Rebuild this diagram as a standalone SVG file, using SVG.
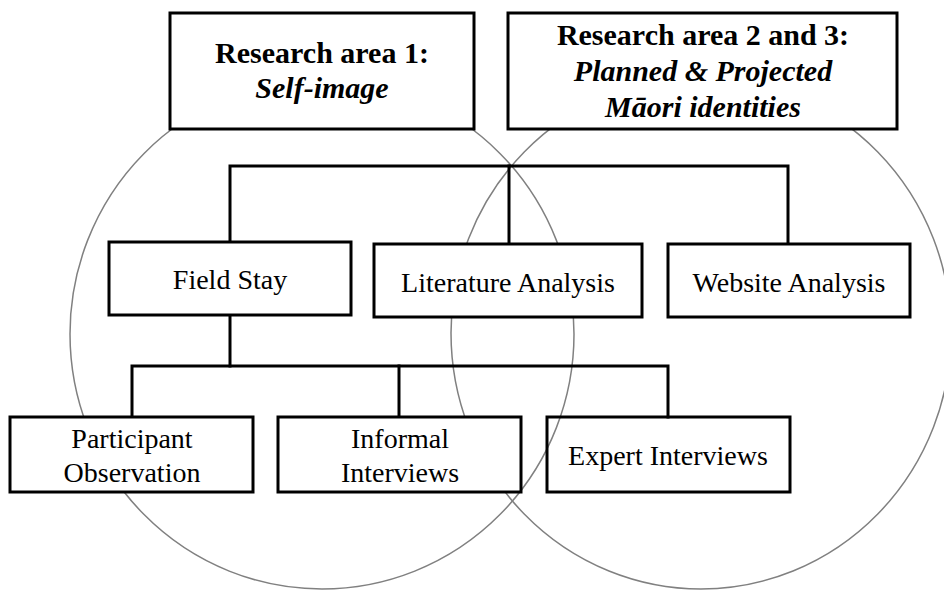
<svg xmlns="http://www.w3.org/2000/svg" width="944" height="590" viewBox="0 0 944 590">
  <style>
    .ring { fill: none; stroke: #808080; stroke-width: 1.5; }
    .box { fill: #ffffff; stroke: #000000; stroke-width: 3; }
    .open { fill: none; }
    .link { fill: none; stroke: #000000; stroke-width: 3; stroke-linecap: square; }
    .head { font-family: "Liberation Serif", "Times New Roman", serif; font-size: 30px; font-weight: bold; text-anchor: middle; fill: #000; }
    .it { font-style: italic; }
    .lbl { font-family: "Liberation Serif", "Times New Roman", serif; font-size: 28px; text-anchor: middle; fill: #000; }
  </style>
  <rect width="944" height="590" fill="#ffffff"/>

  <!-- research area circles -->
  <g id="areas">
    <ellipse class="ring" cx="322" cy="334" rx="252" ry="255"/>
    <ellipse class="ring" cx="701" cy="333" rx="250" ry="256"/>
  </g>

  <!-- connectors -->
  <g id="connectors">
    <polyline class="link" points="230,241 230,166 788,166 788,242"/>
    <line class="link" x1="509" y1="166" x2="509" y2="243"/>
    <line class="link" x1="230" y1="315" x2="230" y2="366"/>
    <polyline class="link" points="132,416 132,366 668,366 668,417"/>
    <line class="link" x1="399" y1="366" x2="399" y2="416"/>
  </g>

  <g id="area1">
    <rect class="box" x="170" y="13" width="304" height="116"/>
    <text class="head" x="322" y="63">Research area 1:</text>
    <text class="head it" x="322" y="98">Self-image</text>
  </g>

  <g id="area23">
    <rect class="box" x="508" y="13" width="389" height="116"/>
    <text class="head" x="703" y="45">Research area 2 and 3:</text>
    <text class="head it" x="703" y="81">Planned &amp; Projected</text>
    <text class="head it" x="703" y="117">Māori identities</text>
  </g>

  <g id="field-stay">
    <rect class="box" x="109" y="242" width="242" height="73"/>
    <text class="lbl" x="230" y="289">Field Stay</text>
  </g>

  <g id="literature-analysis">
    <rect class="box" x="374" y="244" width="268" height="73"/>
    <text class="lbl" x="508" y="292">Literature Analysis</text>
  </g>

  <g id="website-analysis">
    <rect class="box" x="668" y="244" width="242" height="73"/>
    <text class="lbl" x="789" y="292">Website Analysis</text>
  </g>

  <g id="participant-observation">
    <rect class="box" x="10" y="417" width="243" height="75"/>
    <text class="lbl" x="132" y="448">Participant</text>
    <text class="lbl" x="132" y="482">Observation</text>
  </g>

  <g id="informal-interviews">
    <rect class="box" x="278" y="417" width="243" height="75"/>
    <text class="lbl" x="400" y="448">Informal</text>
    <text class="lbl" x="400" y="482">Interviews</text>
  </g>

  <g id="expert-interviews">
    <rect class="box open" x="547" y="417" width="243" height="75"/>
    <text class="lbl" x="668" y="465">Expert Interviews</text>
  </g>
</svg>
